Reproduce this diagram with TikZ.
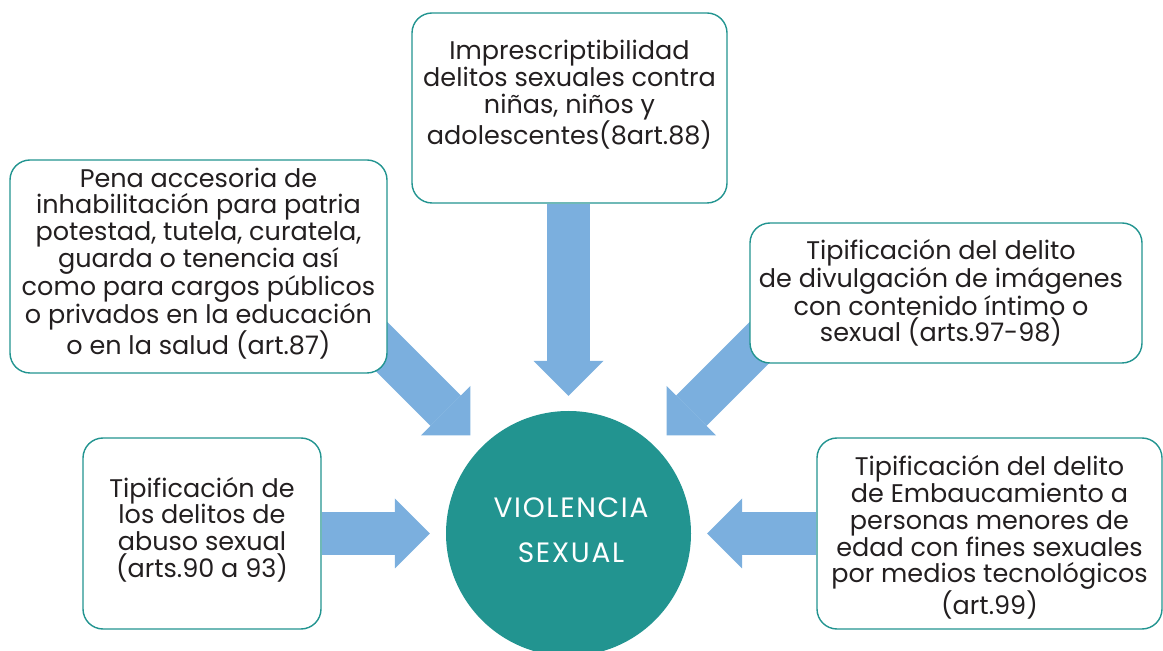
\documentclass[tikz,border=0pt]{standalone}
\usepackage{fontspec}
\setmainfont{Poppins}
\usepackage{xcolor}
\usetikzlibrary{arrows.meta, calc, backgrounds}
\definecolor{tealc}{RGB}{34,148,144}
\definecolor{arrowblue}{RGB}{123,175,222}
\definecolor{inkgray}{RGB}{35,31,32}

\begin{document}
\begin{tikzpicture}[
    x=1pt, y=1pt,
    every node/.style={font=\fontsize{25.5}{26.7}\selectfont, text=inkgray},
    infobox/.style={draw=tealc, line width=1.4pt, fill=white, rounded corners=20pt, rectangle, inner sep=0pt},
    infotext/.style={align=center, inner sep=0pt},
    bigarrow/.style={arrowblue, line width=43pt, -{Triangle[width=70pt, length=35pt, line width=0pt]}}
]
    \useasboundingbox (0, 0) rectangle (1163, 651);
    \clip (0, 0) rectangle (1163, 651);

    % Center
    \node[circle, fill=tealc, minimum size=245pt, inner sep=0pt] (circ) at (568.5, 117.5) {};
    \node[infotext, text=white, font=\fontsize{28}{45}\selectfont\addfontfeature{LetterSpace=6}] (circtext) at ([shift={(2.5,3)}]circ.center) {VIOLENCIA\\SEXUAL};

    % Boxes
    \node[infobox, minimum width=315pt, minimum height=190pt] (impr) at (569.5, 543) {};
    \node[infobox, minimum width=377pt, minimum height=213pt] (pena) at (198.5, 384.5) {};
    \node[infobox, minimum width=392pt, minimum height=140pt] (divulg) at (946, 358) {};
    \node[infobox, minimum width=345pt, minimum height=191pt] (embau) at (989.5, 117.5) {};
    \node[infobox, minimum width=238pt, minimum height=191pt] (abuso) at (202, 117.5) {};

    % Texts
    \node[infotext] (imprtext) at ([yshift=13]impr.center) {Imprescriptibilidad\\delitos sexuales contra\\niñas, niños y\\adolescentes(8art.88)};
    \node[infotext] (penatext) at ([yshift=3]pena.center) {Pena accesoria de\\inhabilitación para patria\\potestad, tutela, curatela,\\guarda o tenencia así\\como para cargos públicos\\o privados en la educación\\o en la salud (art.87)};
    \node[infotext] (divulgtext) at ([xshift=-5]divulg.center) {Tipificación del delito\\de divulgación de imágenes\\con contenido íntimo o\\sexual (arts.97-98)};
    \node[infotext] (embautext) at ([yshift=-4]embau.center) {Tipificación del delito\\de Embaucamiento a\\personas menores de\\edad con fines sexuales\\por medios tecnológicos\\(art.99)};
    \node[infotext] (abusotext) at ([yshift=4]abuso.center) {Tipificación de\\los delitos de\\abuso sexual\\(arts.90 a 93)};

    % Arrows
    \coordinate (penaout) at ($(circ)+(135:285)$);
    \coordinate (divulgout) at ($(circ)+(45:285)$);
    \begin{scope}[on background layer]
        \draw[bigarrow, shorten >=15pt] (impr.south -| circ) -- (circ.north);
        \draw[bigarrow, shorten >=16pt] (penaout) -- (circ.135);
        \draw[bigarrow, shorten >=16pt] (divulgout) -- (circ.45);
        \draw[bigarrow, shorten >=16pt] (abuso.east) -- (circ.west);
        \draw[bigarrow, shorten >=16pt] (embau.west) -- (circ.east);
    \end{scope}
\end{tikzpicture}
\end{document}
